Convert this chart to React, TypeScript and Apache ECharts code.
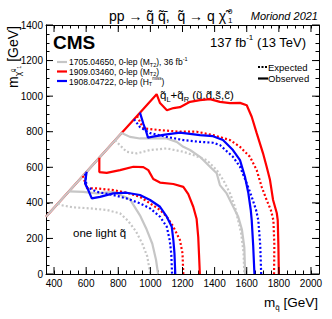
import React, { useEffect, useRef } from "react";
import * as echarts from "echarts";

// Axis ranges and tick values
const xMin = 350;
const xMax = 2050;
const yMin = 0;
const yMax = 1400;
const xMajorTicks = [400, 600, 800, 1000, 1200, 1400, 1600, 1800, 2000];
const yMajorTicks = [0, 200, 400, 600, 800, 1000, 1200, 1400];

// 1909.03460, 0-lep (MT2) — red
const redObsOuter = [[350, 322], [1039, 1011], [1060, 961], [1103, 921], [1144, 933], [1184, 938], [1247, 968], [1309, 978], [1371, 983], [1433, 968], [1496, 961], [1558, 962], [1600, 949], [1631, 884], [1662, 792], [1701, 680], [1724, 603], [1745, 528], [1764, 416], [1787, 343], [1793, 303], [1797, 163], [1800, 0]];
const redExpOuter = [[917, 889], [956, 819], [1060, 809], [1184, 800], [1288, 800], [1390, 781], [1496, 753], [1558, 715], [1620, 659], [1662, 584], [1693, 490], [1724, 416], [1750, 360], [1766, 303], [1772, 163], [1770, 0]];
const redObsInner = [[682, 654], [682, 573], [728, 569], [811, 584], [894, 603], [956, 601], [987, 584], [1018, 534], [1060, 514], [1143, 506], [1205, 490], [1236, 449], [1267, 378], [1288, 309], [1298, 208], [1303, 107], [1308, 0]];
const redExpInner = [[580, 552], [605, 483], [666, 481], [769, 472], [852, 457], [935, 434], [998, 397], [1060, 360], [1102, 322], [1143, 266], [1184, 191], [1200, 116], [1205, 0]];

// 1908.04722, 0-lep (HT miss) — blue
const blueObsOuter = [[935, 907], [957, 843], [973, 803], [985, 767], [1016, 772], [1091, 784], [1184, 795], [1309, 781], [1390, 775], [1452, 753], [1514, 697], [1558, 640], [1589, 547], [1610, 455], [1625, 360], [1631, 303], [1640, 163], [1648, 0]];
const blueExpOuter = [[898, 870], [935, 826], [998, 792], [1102, 771], [1205, 753], [1309, 743], [1390, 738], [1433, 725], [1514, 659], [1558, 603], [1600, 510], [1631, 434], [1658, 360], [1672, 303], [1684, 163], [1690, 0]];
const blueObsInner = [[603, 575], [593, 510], [613, 472], [635, 425], [686, 434], [769, 453], [852, 457], [935, 444], [998, 416], [1060, 378], [1102, 322], [1133, 266], [1143, 191], [1150, 116], [1155, 0]];
const blueExpInner = [[593, 565], [603, 490], [666, 462], [769, 444], [852, 425], [935, 397], [998, 369], [1060, 322], [1102, 266], [1120, 191], [1130, 116], [1135, 0]];

// 1705.04650, 0-lep (MT2), 36 fb-1 — gray
const grayObsOuter = [[350, 322], [821, 793], [873, 771], [935, 762], [1018, 762], [1102, 762], [1164, 743], [1205, 715], [1247, 697], [1309, 659], [1371, 603], [1413, 566], [1433, 500], [1475, 453], [1516, 378], [1547, 322], [1570, 250], [1585, 150], [1590, 0]];
const grayExpOuter = [[780, 752], [852, 687], [915, 678], [998, 697], [1102, 706], [1205, 687], [1267, 669], [1351, 640], [1413, 584], [1454, 528], [1496, 453], [1527, 378], [1541, 322], [1565, 230], [1580, 120], [1585, 0]];
const grayObsInner = [[493, 465], [582, 462], [666, 453], [769, 462], [873, 420], [935, 330], [977, 250], [1012, 170], [1035, 80], [1048, 0]];
const grayExpInner = [[425, 397], [437, 388], [520, 375], [624, 369], [728, 360], [811, 341], [860, 300], [910, 240], [950, 170], [980, 100], [1000, 0]];

const FONT = "'Liberation Sans', Arial, Helvetica, sans-serif";
const GRAY = "#c6c6c6";
const RED = "#ff0000";
const BLUE = "#0000ff";
const DOT = [2, 2.2];

function contour(name: string, data: number[][], color: string, dotted: boolean, z: number) {
  return {
    name,
    type: "line",
    data,
    showSymbol: false,
    symbol: "none",
    z,
    lineStyle: { color, width: 2.2, type: dotted ? DOT : "solid", cap: "butt" },
    silent: true,
  };
}

function tickLine(x1: number, y1: number, x2: number, y2: number) {
  return { type: "line", shape: { x1, y1, x2, y2 }, style: { stroke: "#000", lineWidth: 1 } };
}

export default function App() {
  const ref = useRef<HTMLDivElement>(null);
  useEffect(() => {
    if (!ref.current) return;
    const chart = echarts.init(ref.current, null, { renderer: "svg" });
    const axisCommon = {
      type: "value",
      axisLine: { show: true, onZero: false, lineStyle: { color: "#000", width: 1 } },
      axisTick: { show: true, inside: true, length: 3.5, lineStyle: { color: "#000", width: 1 } },
      splitLine: { show: false },
    };
    const option: any = {
      animation: false,
      backgroundColor: "#fff",
      grid: { left: 46, right: 13, top: 25, bottom: 45, containLabel: false },
      xAxis: [
        {
          ...axisCommon, min: xMin, max: xMax, interval: 50, position: "bottom",
          axisLabel: { formatter: (v: number) => (v % 200 === 0 ? String(v) : ""), margin: 4, fontSize: 10, color: "#000", fontFamily: FONT },
        },
        { ...axisCommon, min: xMin, max: xMax, interval: 50, position: "top", axisLabel: { show: false } },
      ],
      yAxis: [
        {
          ...axisCommon, min: yMin, max: yMax, interval: 50, position: "left",
          axisLabel: { formatter: (v: number) => (v % 200 === 0 ? String(v) : ""), margin: 3, fontSize: 10, color: "#000", fontFamily: FONT },
        },
        { ...axisCommon, min: yMin, max: yMax, interval: 50, position: "right", axisLabel: { show: false } },
      ],
      series: [
        contour("redObsOuter", redObsOuter, RED, false, 3),
        contour("grayObsOuter", grayObsOuter, GRAY, false, 4),
        contour("grayExpOuter", grayExpOuter, GRAY, true, 4),
        contour("grayObsInner", grayObsInner, GRAY, false, 4),
        contour("grayExpInner", grayExpInner, GRAY, true, 4),
        contour("redExpOuter", redExpOuter, RED, true, 5),
        contour("redObsInner", redObsInner, RED, false, 5),
        contour("redExpInner", redExpInner, RED, true, 5),
        contour("blueObsOuter", blueObsOuter, BLUE, false, 6),
        contour("blueExpOuter", blueExpOuter, BLUE, true, 6),
        contour("blueObsInner", blueObsInner, BLUE, false, 6),
        contour("blueExpInner", blueExpInner, BLUE, true, 6),
        {
          type: "custom", silent: true, z: 10,
          data: xMajorTicks.map((v) => [v, yMin]),
          renderItem: (_p: any, api: any) => {
            const v = api.value(0);
            const b = api.coord([v, yMin]);
            const t = api.coord([v, yMax]);
            return { type: "group", children: [tickLine(b[0], b[1], b[0], b[1] - 7), tickLine(t[0], t[1], t[0], t[1] + 7)] };
          },
        },
        {
          type: "custom", silent: true, z: 10,
          data: yMajorTicks.map((v) => [xMin, v]),
          renderItem: (_p: any, api: any) => {
            const v = api.value(1);
            const l = api.coord([xMin, v]);
            const r = api.coord([xMax, v]);
            return { type: "group", children: [tickLine(l[0], l[1], l[0] + 7, l[1]), tickLine(r[0], r[1], r[0] - 7, r[1])] };
          },
        },
      ],
      graphic: [
        // title
        { type: "text", x: 226, y: 16, style: { text: "pp \u2192 q\u0303 q\u0303\u0304,  q\u0303 \u2192 q \u03c7\u0303", fontSize: 14, fontFamily: FONT, fill: "#000", align: "right", verticalAlign: "middle" } },
        { type: "text", x: 228, y: 11, style: { text: "0", fontSize: 8, fontFamily: FONT, fill: "#000", align: "left", verticalAlign: "middle" } },
        { type: "text", x: 228, y: 20.5, style: { text: "1", fontSize: 8, fontFamily: FONT, fill: "#000", align: "left", verticalAlign: "middle" } },
        { type: "text", x: 318, y: 16, style: { text: "Moriond 2021", fontSize: 11, fontStyle: "italic", fontFamily: FONT, fill: "#000", align: "right", verticalAlign: "middle" } },
        // CMS + lumi
        { type: "text", x: 53, y: 42, style: { text: "CMS", fontSize: 19, fontWeight: "bold", fontFamily: FONT, fill: "#000", align: "left", verticalAlign: "middle" } },
        {
          type: "text", x: 306, y: 42,
          style: {
            text: "137 fb{sup|-1} (13 TeV)", fontSize: 13, fontFamily: FONT, fill: "#000", align: "right", verticalAlign: "middle", lineHeight: 18,
            rich: { sup: { fontSize: 8, fontFamily: FONT, fill: "#000", verticalAlign: "top", lineHeight: 10 } },
          },
        },
        // legend left
        { type: "line", shape: { x1: 57, y1: 62, x2: 67, y2: 62 }, style: { stroke: GRAY, lineWidth: 2.2 } },
        { type: "line", shape: { x1: 57, y1: 71.5, x2: 67, y2: 71.5 }, style: { stroke: RED, lineWidth: 2.2 } },
        { type: "line", shape: { x1: 57, y1: 81, x2: 67, y2: 81 }, style: { stroke: BLUE, lineWidth: 2.2 } },
        {
          type: "text", x: 69, y: 62,
          style: {
            text: "1705.04650, 0-lep (M{sub|T2}), 36 fb{sup|-1}", fontSize: 8.5, fontFamily: FONT, fill: "#000", align: "left", verticalAlign: "middle", lineHeight: 12,
            rich: { sub: { fontSize: 5.5, fontFamily: FONT, verticalAlign: "bottom", lineHeight: 7 }, sup: { fontSize: 5.5, fontFamily: FONT, verticalAlign: "top", lineHeight: 7 } },
          },
        },
        {
          type: "text", x: 69, y: 71.5,
          style: {
            text: "1909.03460, 0-lep (M{sub|T2})", fontSize: 8.5, fontFamily: FONT, fill: "#000", align: "left", verticalAlign: "middle", lineHeight: 11,
            rich: { sub: { fontSize: 5.5, fontFamily: FONT, verticalAlign: "bottom", lineHeight: 6 } },
          },
        },
        {
          type: "text", x: 69, y: 81.5,
          style: {
            text: "1908.04722, 0-lep (H{sub|T}{sup|miss})", fontSize: 8.5, fontFamily: FONT, fill: "#000", align: "left", verticalAlign: "middle", lineHeight: 11,
            rich: { sub: { fontSize: 5.5, fontFamily: FONT, verticalAlign: "bottom", lineHeight: 6 }, sup: { fontSize: 4.5, fontFamily: FONT, verticalAlign: "top", lineHeight: 5 } },
          },
        },
        // legend right
        { type: "line", shape: { x1: 258, y1: 67, x2: 268, y2: 67 }, style: { stroke: "#000", lineWidth: 2.2, lineDash: [2, 1.5] } },
        { type: "line", shape: { x1: 258, y1: 78.5, x2: 268, y2: 78.5 }, style: { stroke: "#000", lineWidth: 2.2 } },
        { type: "text", x: 268, y: 67, style: { text: "Expected", fontSize: 9.5, fontFamily: FONT, fill: "#000", align: "left", verticalAlign: "middle" } },
        { type: "text", x: 268, y: 78.5, style: { text: "Observed", fontSize: 9.5, fontFamily: FONT, fill: "#000", align: "left", verticalAlign: "middle" } },
        // annotations
        {
          type: "text", x: 160, y: 95,
          style: {
            text: "q\u0303{sub|L}+q\u0303{sub|R} (u\u0303,d\u0303,s\u0303,c\u0303)", fontSize: 11.5, fontFamily: FONT, fill: "#000", align: "left", verticalAlign: "middle", lineHeight: 16,
            rich: { sub: { fontSize: 7.5, fontFamily: FONT, verticalAlign: "bottom", lineHeight: 8 } },
          },
        },
        { type: "text", x: 73, y: 233, style: { text: "one light q\u0303", fontSize: 11.5, fontFamily: FONT, fill: "#000", align: "left", verticalAlign: "middle" } },
        // axis titles
        {
          type: "text", x: 318, y: 302,
          style: {
            text: "m{sub|q\u0303} [GeV]", fontSize: 13.5, fontFamily: FONT, fill: "#000", align: "right", verticalAlign: "middle", lineHeight: 18,
            rich: { sub: { fontSize: 8, fontFamily: FONT, verticalAlign: "bottom", lineHeight: 10 } },
          },
        },
        {
          type: "text", x: 13, y: 26, rotation: Math.PI / 2,
          style: {
            text: "m{sub|\u03c7\u0303}{sup|0}{sub2|1} [GeV]", fontSize: 14, fontFamily: FONT, fill: "#000", align: "right", verticalAlign: "middle", lineHeight: 18,
            rich: {
              sub: { fontSize: 8.5, fontFamily: FONT, verticalAlign: "bottom", lineHeight: 10 },
              sup: { fontSize: 5.5, fontFamily: FONT, verticalAlign: "middle", lineHeight: 10 },
              sub2: { fontSize: 5.5, fontFamily: FONT, verticalAlign: "bottom", lineHeight: 7 },
            },
          },
        },
      ],
    };
    chart.setOption(option);
    return () => chart.dispose();
  }, []);
  return <div ref={ref} style={{ position: "fixed", left: 0, top: 0, width: 332, height: 319 }} />;
}
